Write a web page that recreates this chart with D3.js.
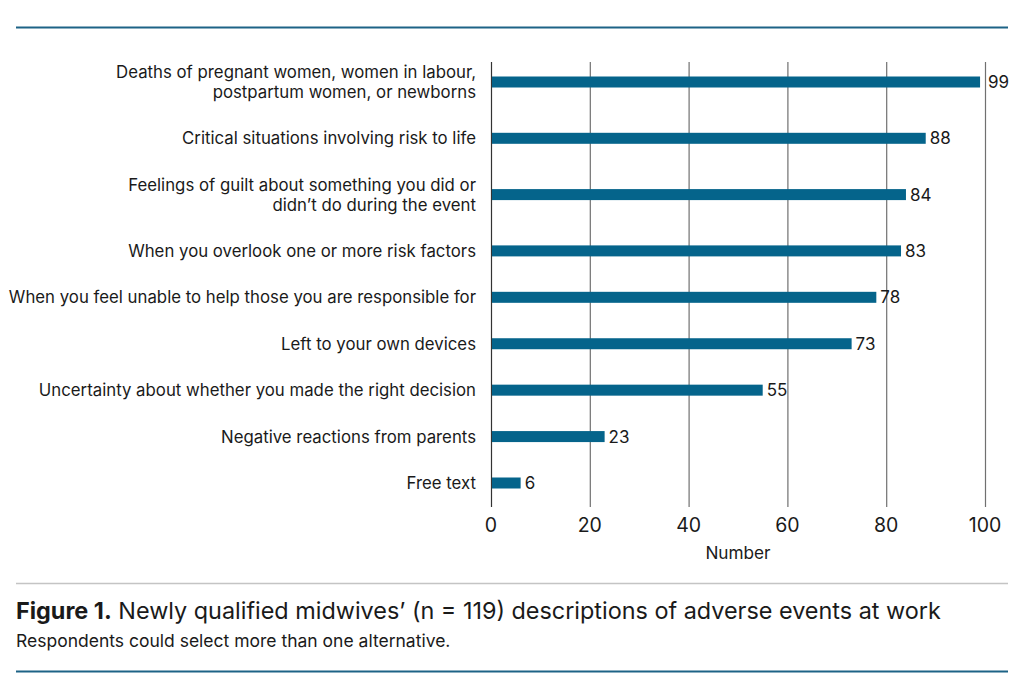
<!DOCTYPE html>
<html><head><meta charset="utf-8">
<script src="https://cdn.jsdelivr.net/npm/d3@7/dist/d3.min.js"></script>
<style>body{margin:0;background:#fff}svg{display:block}text{font-family:Inter,"Noto Sans",sans-serif;fill:#1a1a1a}</style>
</head><body>
<script>
const categories = [
  "Deaths of pregnant women, women in labour,\npostpartum women, or newborns",
  "Critical situations involving risk to life",
  "Feelings of guilt about something you did or\ndidn\u2019t do during the event",
  "When you overlook one or more risk factors",
  "When you feel unable to help those you are responsible for",
  "Left to your own devices",
  "Uncertainty about whether you made the right decision",
  "Negative reactions from parents",
  "Free text"
];
const values = [99, 88, 84, 83, 78, 73, 55, 23, 6];
const xTicks = [0, 20, 40, 60, 80, 100];
const xTitle = "Number";
const captionBold = "Figure 1.";
const captionText = " Newly qualified midwives\u2019 (n = 119) descriptions of adverse events at work";
const noteText = "Respondents could select more than one alternative.";

const W = 1024, H = 695;
const svg = d3.select("body").append("svg").attr("width", W).attr("height", H);

const x = d3.scaleLinear().domain([0, 100]).range([491, 985]);

// row layout: pitch grows with label line count
const lines = categories.map(c => c.split("\n").length);
const pos = [];
let acc = 0;
lines.forEach((n, i) => {
  if (i > 0) acc += 1 + 0.2128 * ((lines[i-1]-1) + (n-1));
  pos.push(acc);
});
const y = d3.scaleLinear().domain([0, pos[pos.length-1]]).range([82, 483]);

// frame lines
svg.append("line").attr("x1",16).attr("x2",1008).attr("y1",27.5).attr("y2",27.5).attr("stroke","#1d6386").attr("stroke-width",2);
svg.append("line").attr("x1",16).attr("x2",1008).attr("y1",583.5).attr("y2",583.5).attr("stroke","#c4c4c4").attr("stroke-width",1.3);
svg.append("line").attr("x1",16).attr("x2",1008).attr("y1",671.5).attr("y2",671.5).attr("stroke","#1d6386").attr("stroke-width",2);

// gridlines
svg.append("g").selectAll("line").data(xTicks).join("line")
  .attr("x1", d => x(d)+0.5).attr("x2", d => x(d)+0.5)
  .attr("y1", 62).attr("y2", 507)
  .attr("stroke", d => d === 0 ? "#333" : "#707070").attr("stroke-width", 1.2);

// bars
const bh = 11;
svg.append("g").selectAll("rect").data(values).join("rect")
  .attr("x", x(0)+1).attr("y", (d,i) => y(pos[i]) - bh/2)
  .attr("width", d => x(d) - x(0) - 1).attr("height", bh)
  .attr("fill", "#05648b");

// value labels (nudged past a gridline if they would overlap it)
function labelX(d) {
  let lx = x(d) + 4;
  xTicks.forEach(t => { const g = x(t); if (g >= lx - 2 && g <= lx + 3) lx = g + 3; });
  return lx;
}
svg.append("g").selectAll("text").data(values).join("text")
  .attr("x", labelX).attr("y", (d,i) => y(pos[i]))
  .attr("dy", "0.36em").attr("font-size", 17).text(d => d);

// category labels
const lab = svg.append("g").selectAll("text").data(categories).join("text")
  .attr("text-anchor", "end").attr("font-size", 16.8)
  .attr("transform", (d,i) => `translate(476,${y(pos[i])})`);
lab.each(function(d){
  const parts = d.split("\n");
  const t = d3.select(this);
  parts.forEach((p, j) => {
    t.append("tspan").attr("x", 0)
      .attr("y", (j - (parts.length-1)/2) * 20)
      .attr("dy", "0.36em").text(p);
  });
});

// x tick labels
svg.append("g").selectAll("text").data(xTicks).join("text")
  .attr("x", d => x(d)).attr("y", 532).attr("text-anchor", "middle")
  .attr("font-size", 19.5).text(d => d);
svg.append("text").attr("x", (x(0)+x(100))/2).attr("y", 559)
  .attr("text-anchor", "middle").attr("font-size", 17.2).text(xTitle);

// caption
const cap = svg.append("text").attr("x", 16).attr("y", 619).attr("font-size", 23.4);
cap.append("tspan").attr("font-weight", 700).text(captionBold);
cap.append("tspan").text(captionText);
svg.append("text").attr("x", 16).attr("y", 647).attr("font-size", 17.5).text(noteText);
</script>
</body></html>
